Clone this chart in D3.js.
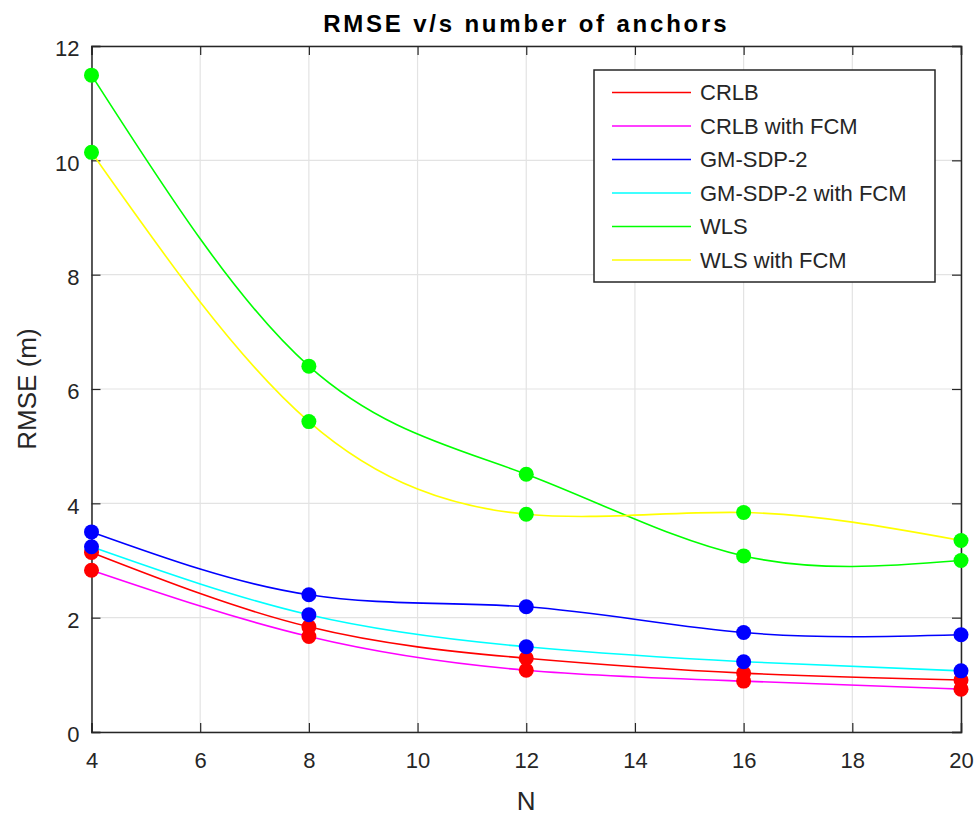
<!DOCTYPE html>
<html>
<head>
<meta charset="utf-8">
<script src="https://cdn.jsdelivr.net/npm/d3@7"></script>
<style>
  body { margin: 0; background: #fff; }
  text { font-family: "Liberation Sans", Arial, sans-serif; }
</style>
</head>
<body>
<div id="chart"></div>
<script>

var svgWidth = 978;
var svgHeight = 816;

// plot box edges
var margin = { top: 46, right: 17, bottom: 84, left: 91.5 };
var width = svgWidth - margin.left - margin.right;
var height = svgHeight - margin.top - margin.bottom;

// data
var anchors = [4, 8, 12, 16, 20];
var crlb       = [3.14, 1.84, 1.29, 1.03, 0.91];
var crlbFcm    = [2.83, 1.67, 1.08, 0.89, 0.75];
var gmSdp      = [3.50, 2.40, 2.19, 1.74, 1.70];
var gmSdpFcm   = [3.24, 2.05, 1.49, 1.23, 1.07];
var wls        = [11.49, 6.40, 4.51, 3.08, 3.00];
var wlsFcm     = [10.14, 5.43, 3.81, 3.84, 3.35];

var seriesNames = ['CRLB', 'CRLB with FCM', 'GM-SDP-2', 'GM-SDP-2 with FCM', 'WLS', 'WLS with FCM'];
var seriesValues = [crlb, crlbFcm, gmSdp, gmSdpFcm, wls, wlsFcm];
var lineColors = ['#ff0000', '#ff00ff', '#0000ff', '#00ffff', '#00ff00', '#ffff00'];
var markerColors = ['#ff0000', '#ff0000', '#0000ff', '#0000ff', '#00ff00', '#00ff00'];

var xTicks = [4, 6, 8, 10, 12, 14, 16, 18, 20];
var yTicks = [0, 2, 4, 6, 8, 10, 12];

var svg = d3.select('#chart')
  .append('svg')
  .attr('width', svgWidth)
  .attr('height', svgHeight);

var chartGroup = svg.append('g')
  .attr('transform', `translate(${margin.left}, ${margin.top})`);

var xScale = d3.scaleLinear().domain([4, 20]).range([0, width]);
var yScale = d3.scaleLinear().domain([0, 12]).range([height, 0]);

// grid
chartGroup.append('g')
  .selectAll('line')
  .data(xTicks)
  .enter()
  .append('line')
  .attr('x1', d => xScale(d)).attr('x2', d => xScale(d))
  .attr('y1', 0).attr('y2', height)
  .attr('stroke', '#e3e3e3')
  .attr('stroke-width', 1.2);

chartGroup.append('g')
  .selectAll('line')
  .data(yTicks)
  .enter()
  .append('line')
  .attr('x1', 0).attr('x2', width)
  .attr('y1', d => yScale(d)).attr('y2', d => yScale(d))
  .attr('stroke', '#e3e3e3')
  .attr('stroke-width', 1.2);

// axes, ticks pointing in, on all four sides
var axisColor = '#262626';
var bottomAxis = d3.axisBottom(xScale).tickValues(xTicks).tickSize(-9).tickPadding(20);
var topAxis = d3.axisTop(xScale).tickValues(xTicks).tickSize(-9).tickFormat('');
var leftAxis = d3.axisLeft(yScale).tickValues(yTicks).tickSize(-9).tickPadding(12);
var rightAxis = d3.axisRight(yScale).tickValues(yTicks).tickSize(-9).tickFormat('');

var xAxis = chartGroup.append('g')
  .attr('transform', `translate(0, ${height})`)
  .call(bottomAxis);
chartGroup.append('g').call(topAxis);
var yAxis = chartGroup.append('g').call(leftAxis);
chartGroup.append('g').attr('transform', `translate(${width}, 0)`).call(rightAxis);

chartGroup.selectAll('.domain').attr('stroke', axisColor).attr('stroke-width', 1.5);
chartGroup.selectAll('.tick line').attr('stroke', axisColor).attr('stroke-width', 1.2);
chartGroup.selectAll('.tick text')
  .attr('fill', axisColor)
  .style('font-size', '22px')
  .style('font-family', '"Liberation Sans", Arial, sans-serif');
xAxis.selectAll('.tick text').attr('dy', '0.71em');
yAxis.selectAll('.tick text').attr('dy', '0.45em');

// curves
var line = d3.line()
  .x((d, i) => xScale(anchors[i]))
  .y(d => yScale(d))
  .curve(d3.curveNatural);

seriesValues.forEach(function(vals, k) {
  chartGroup.append('path')
    .datum(vals)
    .attr('d', line)
    .attr('fill', 'none')
    .attr('stroke', lineColors[k])
    .attr('stroke-width', 1.6);
});

// markers on top
seriesValues.forEach(function(vals, k) {
  chartGroup.append('g')
    .selectAll('circle')
    .data(vals)
    .enter()
    .append('circle')
    .attr('cx', (d, i) => xScale(anchors[i]))
    .attr('cy', d => yScale(d))
    .attr('r', 7.5)
    .attr('fill', markerColors[k]);
});

// title and labels
svg.append('text')
  .attr('x', margin.left + width / 2)
  .attr('y', 32)
  .attr('text-anchor', 'middle')
  .style('font-size', '24px')
  .style('font-weight', 'bold')
  .style('letter-spacing', '2.8px')
  .attr('fill', '#000')
  .text('RMSE v/s number of anchors');

svg.append('text')
  .attr('x', margin.left + width / 2)
  .attr('y', 810)
  .attr('text-anchor', 'middle')
  .style('font-size', '26px')
  .attr('fill', axisColor)
  .text('N');

svg.append('text')
  .attr('transform', `translate(36, ${margin.top + height / 2}) rotate(-90)`)
  .attr('text-anchor', 'middle')
  .style('font-size', '26px')
  .attr('fill', axisColor)
  .text('RMSE (m)');

// legend
var legend = svg.append('g').attr('transform', 'translate(594, 70)');
legend.append('rect')
  .attr('width', 341)
  .attr('height', 212)
  .attr('fill', '#fff')
  .attr('stroke', axisColor)
  .attr('stroke-width', 1.5);

var rows = legend.selectAll('.row')
  .data(seriesNames)
  .enter()
  .append('g')
  .attr('transform', (d, i) => `translate(0, ${22.5 + i * 33.5})`);

rows.append('line')
  .attr('x1', 18).attr('x2', 97)
  .attr('y1', 0).attr('y2', 0)
  .attr('stroke', (d, i) => lineColors[i])
  .attr('stroke-width', 1.6);

rows.append('text')
  .attr('x', 106)
  .attr('y', 0)
  .attr('dy', '0.35em')
  .style('font-size', '22px')
  .attr('fill', axisColor)
  .text(d => d);

</script>
</body>
</html>
